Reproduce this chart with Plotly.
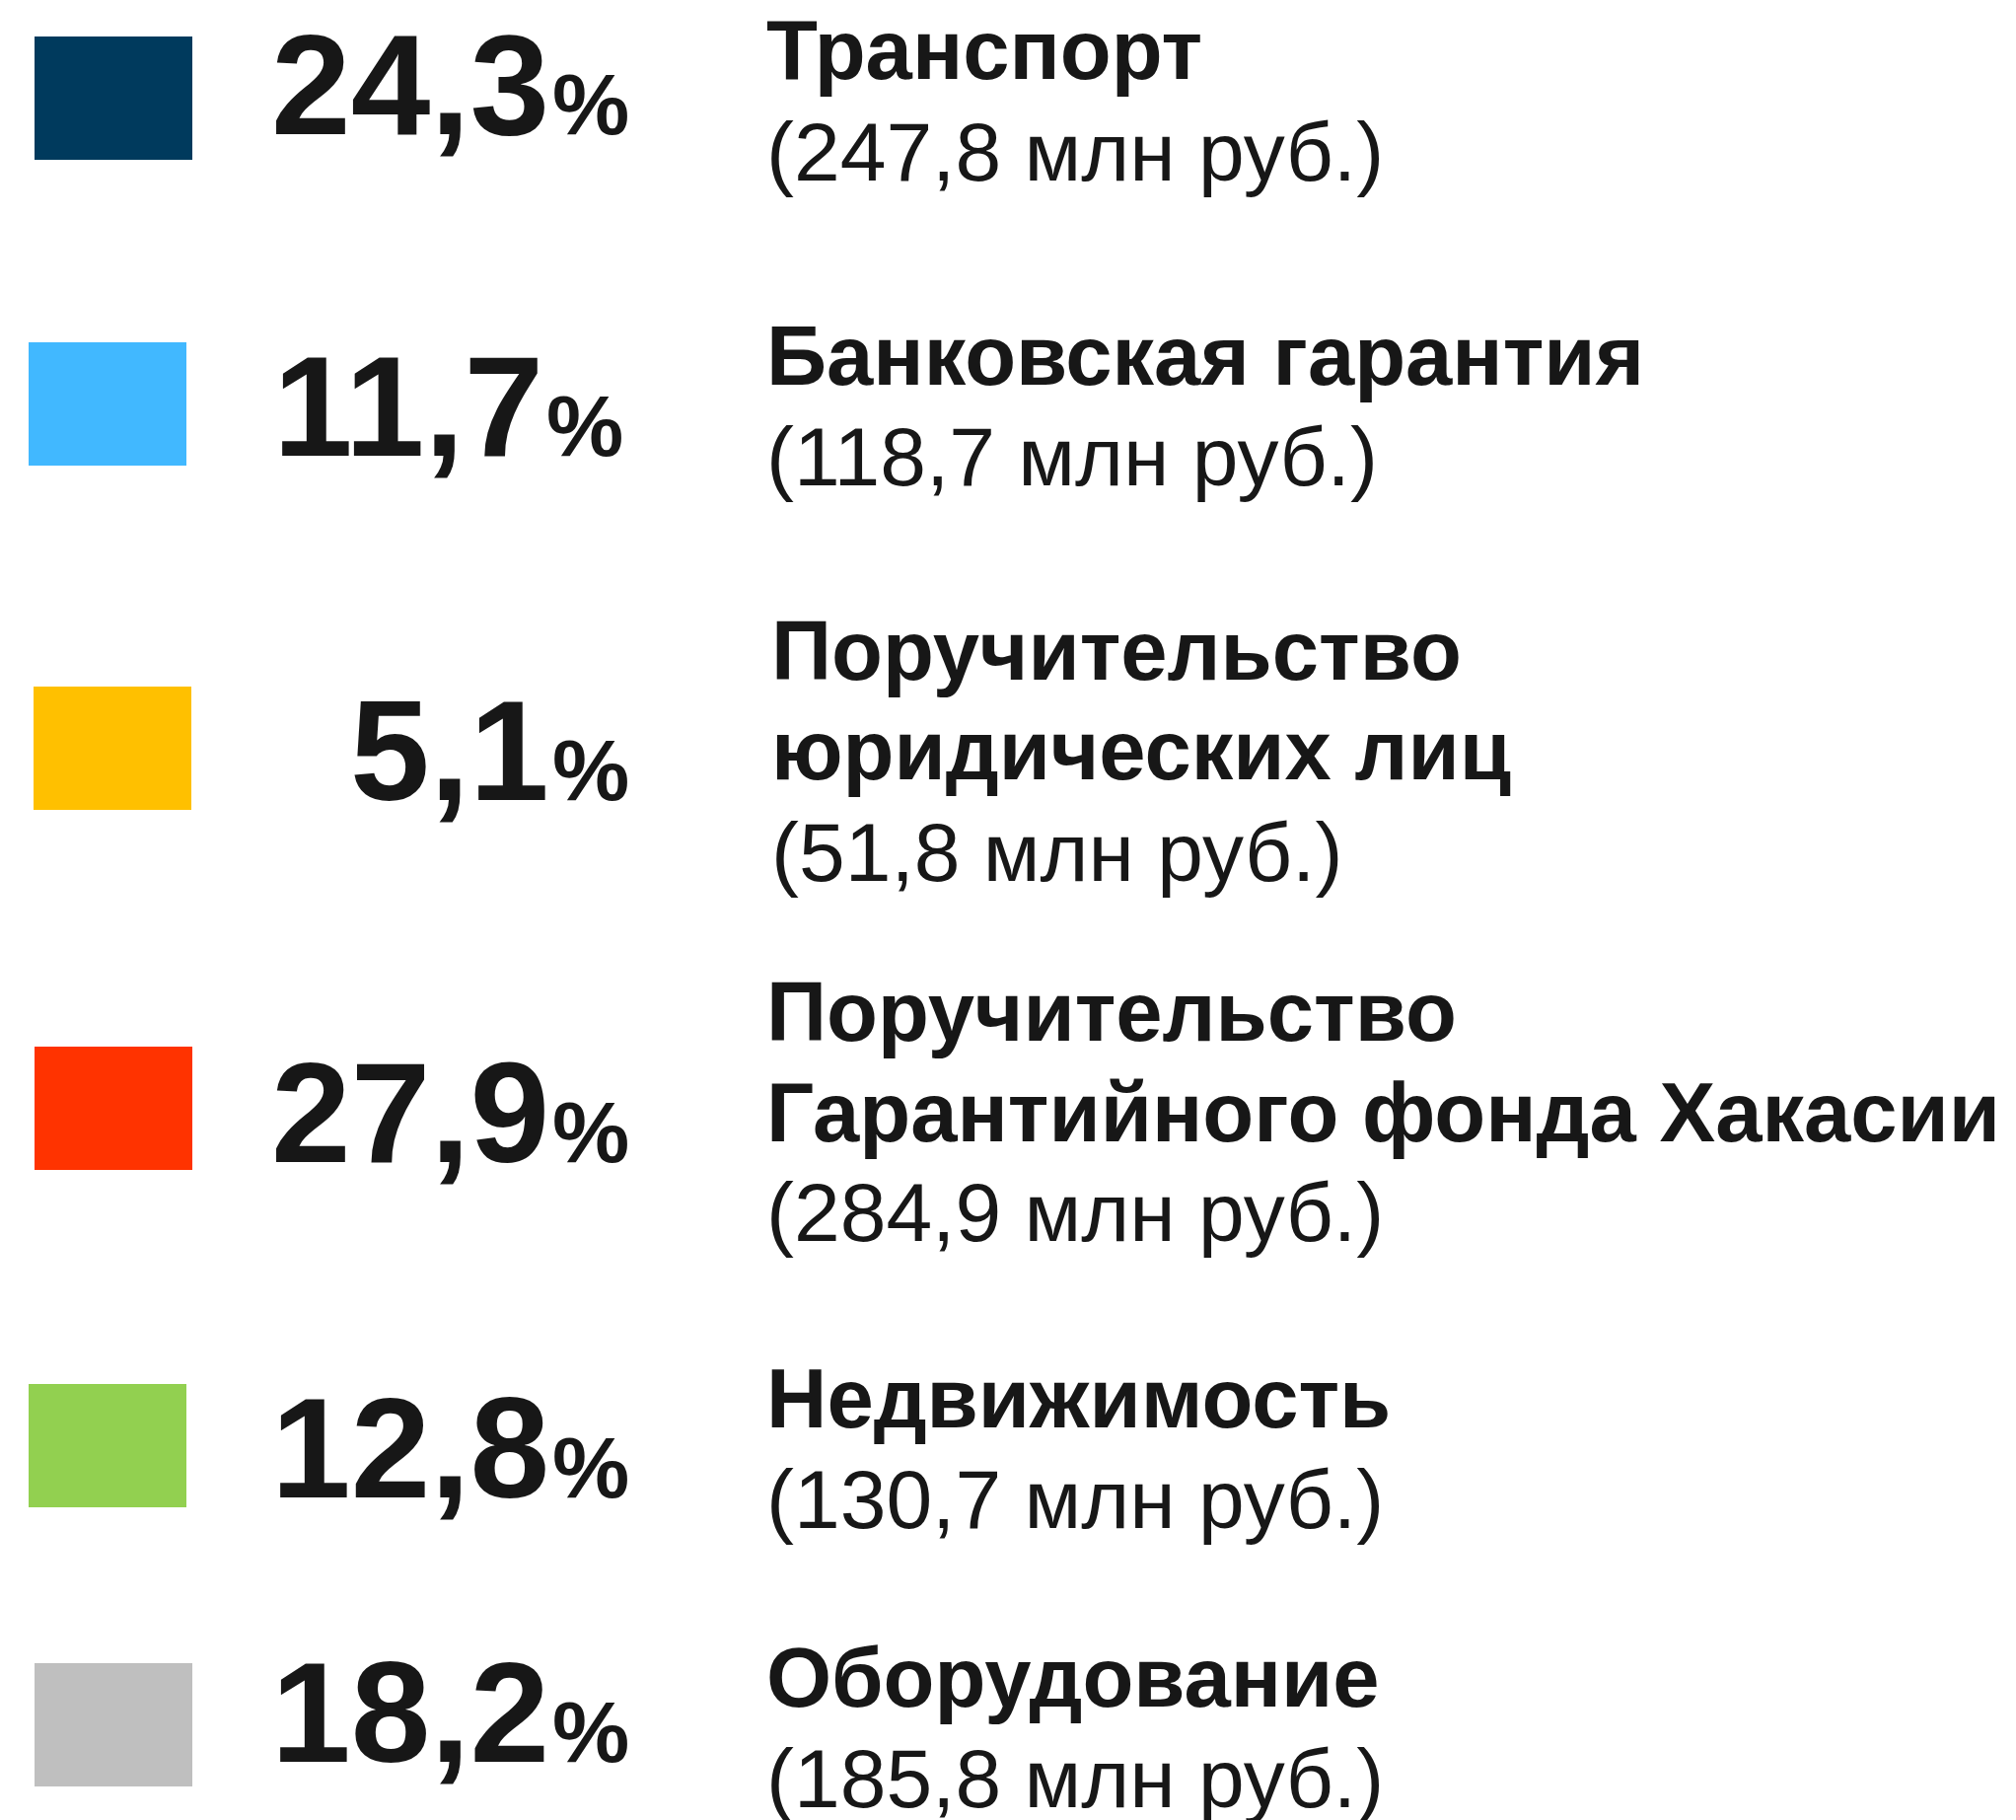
import plotly.graph_objects as go

# ---------------- data ----------------
categories = [
    "Транспорт",
    "Банковская гарантия",
    "Поручительство юридических лиц",
    "Поручительство Гарантийного фонда Хакасии",
    "Недвижимость",
    "Оборудование",
]
title_lines = [
    ["Транспорт"],
    ["Банковская гарантия"],
    ["Поручительство", "юридических лиц"],
    ["Поручительство", "Гарантийного фонда Хакасии"],
    ["Недвижимость"],
    ["Оборудование"],
]
shares_pct = [24.3, 11.7, 5.1, 27.9, 12.8, 18.2]
amounts_mln = [247.8, 118.7, 51.8, 284.9, 130.7, 185.8]
colors = ["#003A5D", "#41B8FF", "#FFC000", "#FF3300", "#92D050", "#BFBFBF"]

# ---------------- layout constants (pixels) ----------------
W, H = 2044, 1845
SQ_LEFT = [35, 29, 34, 35, 29, 35]
SQ_TOP = [37, 347, 696, 1061, 1403, 1686]
SQ_W, SQ_H = 160, 125
PCT_BASE = [136, 462, 811, 1178, 1518, 1786]
PCT_SHIFT = [0, -6, 0, 0, 0, 0]
TITLE_BASES = [[80], [390], [689, 790], [1055, 1157], [1447], [1730]]
SUB_BASE = [183, 492, 893, 1258, 1549, 1832]
TEXT_SHIFT = [0, 0, 5, 0, 0, 0]
TEXT_X = 775
NUM_R = 559
PCT_L = 558

FONT = "Liberation Sans, Arial, sans-serif"
TXT = "#171717"
K = 0.3465  # baseline offset from text box centre, in em
NUM_SIZE, PCT_SIZE, TITLE_SIZE, SUB_SIZE = 145, 88, 85, 84

def fmt(v):
    return f"{v:.1f}".replace(".", ",")

fig = go.Figure()
fig.add_trace(go.Bar(
    orientation="h",
    y=[t + SQ_H / 2 for t in SQ_TOP],
    x=[SQ_W] * len(categories),
    base=SQ_LEFT,
    width=[SQ_H] * len(categories),
    marker=dict(color=colors, line=dict(width=0)),
    hovertext=categories,
    hoverinfo="text",
    showlegend=False,
))

ann = []
def add(x, base, text, size, xanchor):
    ann.append(dict(x=x, y=base - K * size, xref="x", yref="y", text=text,
                    showarrow=False, xanchor=xanchor, yanchor="middle",
                    font=dict(family=FONT, size=size, color=TXT)))

for i in range(len(categories)):
    add(NUM_R + PCT_SHIFT[i], PCT_BASE[i], f"<b>{fmt(shares_pct[i])}</b>", NUM_SIZE, "right")
    add(PCT_L + PCT_SHIFT[i], PCT_BASE[i], "<b>%</b>", PCT_SIZE, "left")
    for line, b in zip(title_lines[i], TITLE_BASES[i]):
        add(TEXT_X + TEXT_SHIFT[i], b, f"<b>{line}</b>", TITLE_SIZE, "left")
    add(TEXT_X + TEXT_SHIFT[i], SUB_BASE[i], f"({fmt(amounts_mln[i])} млн руб.)", SUB_SIZE, "left")

fig.update_layout(
    width=W, height=H,
    margin=dict(l=0, r=0, t=0, b=0),
    paper_bgcolor="white", plot_bgcolor="white",
    xaxis=dict(range=[0, W], visible=False, fixedrange=True),
    yaxis=dict(range=[H, 0], visible=False, fixedrange=True),
    annotations=ann,
    bargap=0,
)
fig.write_html("out.html", config={"displayModeBar": False},
               post_script="document.body.style.margin='0';document.body.style.overflow='hidden';")
